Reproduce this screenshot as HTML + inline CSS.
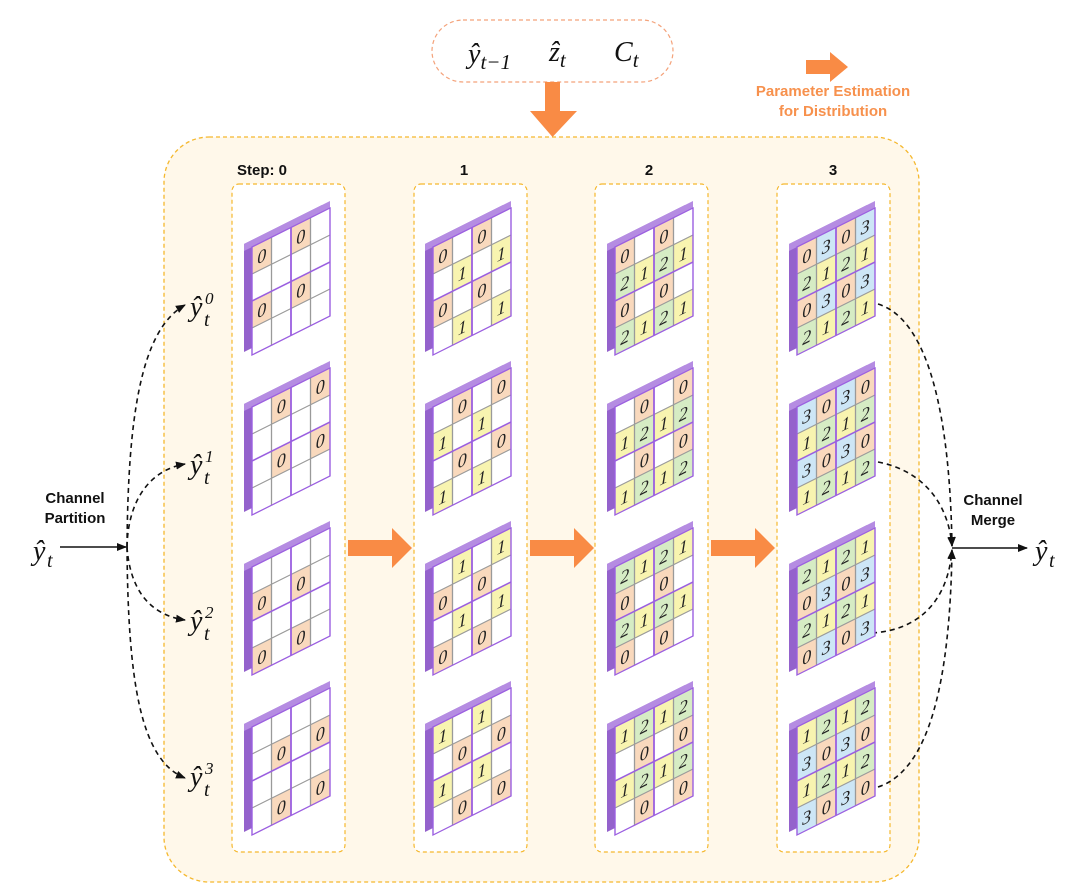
<!DOCTYPE html>
<html><head><meta charset="utf-8"><style>
html,body{margin:0;padding:0;background:#fff}
svg{display:block}
.n{font-family:"Liberation Serif",serif;font-style:italic;font-size:18px;text-anchor:middle;fill:#222}
.m{font-family:"Liberation Serif",serif;font-style:italic;fill:#111}
.lb{font-family:"Liberation Sans",sans-serif;font-weight:bold;font-size:15px;fill:#111;text-anchor:middle}
.ol{font-family:"Liberation Sans",sans-serif;font-weight:bold;font-size:15px;fill:#f7914d;text-anchor:middle}
</style></head><body>
<svg width="1071" height="888" viewBox="0 0 1071 888" xmlns="http://www.w3.org/2000/svg">
<defs>
<g id="fr">
<rect x="-8" y="-7" width="78" height="108" fill="#9462cc"/>
<rect x="-8" y="-7" width="86" height="7" fill="#b58ce2"/>
<rect x="0" y="0" width="78" height="108" fill="#fff"/>
</g>
<g id="ln" fill="none">
<path d="M19.5 0V108M58.5 0V108M0 27H78M0 81H78" stroke="#9a9a9a" stroke-width="1.3"/>
<path d="M39 0V108M0 54H78" stroke="#9b5fe0" stroke-width="1.8"/>
<rect x="0" y="0" width="78" height="108" stroke="#9b5fe0" stroke-width="1.4"/>
</g>
<g id="A"><rect x="0" y="0" width="19.5" height="27"/><rect x="39" y="0" width="19.5" height="27"/><rect x="0" y="54" width="19.5" height="27"/><rect x="39" y="54" width="19.5" height="27"/></g>
<g id="B"><rect x="19.5" y="0" width="19.5" height="27"/><rect x="58.5" y="0" width="19.5" height="27"/><rect x="19.5" y="54" width="19.5" height="27"/><rect x="58.5" y="54" width="19.5" height="27"/></g>
<g id="C"><rect x="0" y="27" width="19.5" height="27"/><rect x="39" y="27" width="19.5" height="27"/><rect x="0" y="81" width="19.5" height="27"/><rect x="39" y="81" width="19.5" height="27"/></g>
<g id="D"><rect x="19.5" y="27" width="19.5" height="27"/><rect x="58.5" y="27" width="19.5" height="27"/><rect x="19.5" y="81" width="19.5" height="27"/><rect x="58.5" y="81" width="19.5" height="27"/></g>
<marker id="ah" markerWidth="10" markerHeight="10" refX="9" refY="5" orient="auto" markerUnits="userSpaceOnUse"><path d="M0 1L10 5L0 9Z" fill="#111"/></marker>
</defs>

<rect x="164" y="137" width="755" height="745" rx="45" fill="#fff8ea" stroke="#f5b82e" stroke-width="1.3" stroke-dasharray="4 3"/>
<g fill="#fff" stroke="#f5b82e" stroke-width="1.2" stroke-dasharray="4 3">
<rect x="232" y="184" width="113" height="668" rx="7"/>
<rect x="414" y="184" width="113" height="668" rx="7"/>
<rect x="595" y="184" width="113" height="668" rx="7"/>
<rect x="777" y="184" width="113" height="668" rx="7"/>
</g>
<text class="lb" x="262" y="175">Step: 0</text>
<text class="lb" x="464" y="175">1</text>
<text class="lb" x="649" y="175">2</text>
<text class="lb" x="833" y="175">3</text>

<rect x="432" y="20" width="241" height="62" rx="31" fill="#fff" stroke="#f4a27a" stroke-width="1.2" stroke-dasharray="4 3"/>
<text class="m" x="468" y="63" font-size="28">ŷ<tspan font-size="21" dy="6">t−1</tspan></text>
<text class="m" x="549" y="61" font-size="28">ẑ<tspan font-size="21" dy="6">t</tspan></text>
<text class="m" x="614" y="61" font-size="28">C<tspan font-size="21" dy="6">t</tspan></text>
<path d="M545 82H560V111H577L552.5 137L530 111H545Z" fill="#f98b45"/>
<path d="M806 60H830V52L848 67L830 82V74H806Z" fill="#f98b45"/>
<text class="ol" x="833" y="96">Parameter Estimation</text>
<text class="ol" x="833" y="116">for Distribution</text>

<path d="M348 540H392V528L412 548L392 568V556H348Z" fill="#f98b45"/>
<path d="M530 540H574V528L594 548L574 568V556H530Z" fill="#f98b45"/>
<path d="M711 540H755V528L775 548L755 568V556H711Z" fill="#f98b45"/>

<text class="lb" x="75" y="503">Channel</text>
<text class="lb" x="75" y="523">Partition</text>
<text class="m" x="33" y="560" font-size="28">ŷ</text><text class="m" x="47" y="567" font-size="20">t</text>
<line x1="60" y1="547" x2="126" y2="547" stroke="#111" stroke-width="1.6" marker-end="url(#ah)"/>
<g fill="none" stroke="#111" stroke-width="1.6" stroke-dasharray="5 4" marker-end="url(#ah)">
<path d="M127 547C128 420 140 330 185 305"/>
<path d="M127 547C128 500 150 470 185 464"/>
<path d="M127 547C130 590 150 615 185 620"/>
<path d="M127 547C128 680 140 760 185 778"/>
</g>
<g class="m">
<text x="190" y="316" font-size="28">ŷ</text><text x="204" y="326" font-size="20">t</text><text x="205" y="304" font-size="17">0</text>
<text x="190" y="474" font-size="28">ŷ</text><text x="204" y="484" font-size="20">t</text><text x="205" y="462" font-size="17">1</text>
<text x="190" y="630" font-size="28">ŷ</text><text x="204" y="640" font-size="20">t</text><text x="205" y="618" font-size="17">2</text>
<text x="190" y="786" font-size="28">ŷ</text><text x="204" y="796" font-size="20">t</text><text x="205" y="774" font-size="17">3</text>
</g>

<g fill="none" stroke="#111" stroke-width="1.6" stroke-dasharray="5 4" marker-end="url(#ah)">
<path d="M878 304C930 320 950 420 952 546"/>
<path d="M878 462C920 470 948 500 952 546"/>
<path d="M872 633C920 630 948 600 952 550"/>
<path d="M878 787C930 770 950 680 952 550"/>
</g>
<line x1="952" y1="548" x2="1027" y2="548" stroke="#111" stroke-width="1.6" marker-end="url(#ah)"/>
<text class="lb" x="993" y="505">Channel</text>
<text class="lb" x="993" y="525">Merge</text>
<text class="m" x="1035" y="560" font-size="28">ŷ</text><text class="m" x="1049" y="567" font-size="20">t</text>

<!-- Step 0 -->
<g transform="translate(252,247) matrix(1,-0.5,0,1,0,0)"><use href="#fr"/><use href="#A" fill="#f9d9bd"/><use href="#ln"/>
<text class="n" x="9.75 48.75 9.75 48.75" y="20 20 74 74">0000</text></g>
<g transform="translate(252,407) matrix(1,-0.5,0,1,0,0)"><use href="#fr"/><use href="#B" fill="#f9d9bd"/><use href="#ln"/>
<text class="n" x="29.25 68.25 29.25 68.25" y="20 20 74 74">0000</text></g>
<g transform="translate(252,567) matrix(1,-0.5,0,1,0,0)"><use href="#fr"/><use href="#C" fill="#f9d9bd"/><use href="#ln"/>
<text class="n" x="9.75 48.75 9.75 48.75" y="47 47 101 101">0000</text></g>
<g transform="translate(252,727) matrix(1,-0.5,0,1,0,0)"><use href="#fr"/><use href="#D" fill="#f9d9bd"/><use href="#ln"/>
<text class="n" x="29.25 68.25 29.25 68.25" y="47 47 101 101">0000</text></g>

<!-- Step 1 -->
<g transform="translate(433,247) matrix(1,-0.5,0,1,0,0)"><use href="#fr"/><use href="#A" fill="#f9d9bd"/><use href="#D" fill="#f8f4b0"/><use href="#ln"/>
<text class="n" x="9.75 48.75 9.75 48.75" y="20 20 74 74">0000</text><text class="n" x="29.25 68.25 29.25 68.25" y="47 47 101 101">1111</text></g>
<g transform="translate(433,407) matrix(1,-0.5,0,1,0,0)"><use href="#fr"/><use href="#B" fill="#f9d9bd"/><use href="#C" fill="#f8f4b0"/><use href="#ln"/>
<text class="n" x="29.25 68.25 29.25 68.25" y="20 20 74 74">0000</text><text class="n" x="9.75 48.75 9.75 48.75" y="47 47 101 101">1111</text></g>
<g transform="translate(433,567) matrix(1,-0.5,0,1,0,0)"><use href="#fr"/><use href="#C" fill="#f9d9bd"/><use href="#B" fill="#f8f4b0"/><use href="#ln"/>
<text class="n" x="9.75 48.75 9.75 48.75" y="47 47 101 101">0000</text><text class="n" x="29.25 68.25 29.25 68.25" y="20 20 74 74">1111</text></g>
<g transform="translate(433,727) matrix(1,-0.5,0,1,0,0)"><use href="#fr"/><use href="#D" fill="#f9d9bd"/><use href="#A" fill="#f8f4b0"/><use href="#ln"/>
<text class="n" x="29.25 68.25 29.25 68.25" y="47 47 101 101">0000</text><text class="n" x="9.75 48.75 9.75 48.75" y="20 20 74 74">1111</text></g>

<!-- Step 2 -->
<g transform="translate(615,247) matrix(1,-0.5,0,1,0,0)"><use href="#fr"/><use href="#A" fill="#f9d9bd"/><use href="#D" fill="#f8f4b0"/><use href="#C" fill="#d6ecc4"/><use href="#ln"/>
<text class="n" x="9.75 48.75 9.75 48.75" y="20 20 74 74">0000</text><text class="n" x="29.25 68.25 29.25 68.25" y="47 47 101 101">1111</text><text class="n" x="9.75 48.75 9.75 48.75" y="47 47 101 101">2222</text></g>
<g transform="translate(615,407) matrix(1,-0.5,0,1,0,0)"><use href="#fr"/><use href="#B" fill="#f9d9bd"/><use href="#C" fill="#f8f4b0"/><use href="#D" fill="#d6ecc4"/><use href="#ln"/>
<text class="n" x="29.25 68.25 29.25 68.25" y="20 20 74 74">0000</text><text class="n" x="9.75 48.75 9.75 48.75" y="47 47 101 101">1111</text><text class="n" x="29.25 68.25 29.25 68.25" y="47 47 101 101">2222</text></g>
<g transform="translate(615,567) matrix(1,-0.5,0,1,0,0)"><use href="#fr"/><use href="#C" fill="#f9d9bd"/><use href="#B" fill="#f8f4b0"/><use href="#A" fill="#d6ecc4"/><use href="#ln"/>
<text class="n" x="9.75 48.75 9.75 48.75" y="47 47 101 101">0000</text><text class="n" x="29.25 68.25 29.25 68.25" y="20 20 74 74">1111</text><text class="n" x="9.75 48.75 9.75 48.75" y="20 20 74 74">2222</text></g>
<g transform="translate(615,727) matrix(1,-0.5,0,1,0,0)"><use href="#fr"/><use href="#D" fill="#f9d9bd"/><use href="#A" fill="#f8f4b0"/><use href="#B" fill="#d6ecc4"/><use href="#ln"/>
<text class="n" x="29.25 68.25 29.25 68.25" y="47 47 101 101">0000</text><text class="n" x="9.75 48.75 9.75 48.75" y="20 20 74 74">1111</text><text class="n" x="29.25 68.25 29.25 68.25" y="20 20 74 74">2222</text></g>

<!-- Step 3 -->
<g transform="translate(797,247) matrix(1,-0.5,0,1,0,0)"><use href="#fr"/><use href="#A" fill="#f9d9bd"/><use href="#D" fill="#f8f4b0"/><use href="#C" fill="#d6ecc4"/><use href="#B" fill="#cde6f6"/><use href="#ln"/>
<text class="n" x="9.75 48.75 9.75 48.75" y="20 20 74 74">0000</text><text class="n" x="29.25 68.25 29.25 68.25" y="47 47 101 101">1111</text><text class="n" x="9.75 48.75 9.75 48.75" y="47 47 101 101">2222</text><text class="n" x="29.25 68.25 29.25 68.25" y="20 20 74 74">3333</text></g>
<g transform="translate(797,407) matrix(1,-0.5,0,1,0,0)"><use href="#fr"/><use href="#B" fill="#f9d9bd"/><use href="#C" fill="#f8f4b0"/><use href="#D" fill="#d6ecc4"/><use href="#A" fill="#cde6f6"/><use href="#ln"/>
<text class="n" x="29.25 68.25 29.25 68.25" y="20 20 74 74">0000</text><text class="n" x="9.75 48.75 9.75 48.75" y="47 47 101 101">1111</text><text class="n" x="29.25 68.25 29.25 68.25" y="47 47 101 101">2222</text><text class="n" x="9.75 48.75 9.75 48.75" y="20 20 74 74">3333</text></g>
<g transform="translate(797,567) matrix(1,-0.5,0,1,0,0)"><use href="#fr"/><use href="#C" fill="#f9d9bd"/><use href="#B" fill="#f8f4b0"/><use href="#A" fill="#d6ecc4"/><use href="#D" fill="#cde6f6"/><use href="#ln"/>
<text class="n" x="9.75 48.75 9.75 48.75" y="47 47 101 101">0000</text><text class="n" x="29.25 68.25 29.25 68.25" y="20 20 74 74">1111</text><text class="n" x="9.75 48.75 9.75 48.75" y="20 20 74 74">2222</text><text class="n" x="29.25 68.25 29.25 68.25" y="47 47 101 101">3333</text></g>
<g transform="translate(797,727) matrix(1,-0.5,0,1,0,0)"><use href="#fr"/><use href="#D" fill="#f9d9bd"/><use href="#A" fill="#f8f4b0"/><use href="#B" fill="#d6ecc4"/><use href="#C" fill="#cde6f6"/><use href="#ln"/>
<text class="n" x="29.25 68.25 29.25 68.25" y="47 47 101 101">0000</text><text class="n" x="9.75 48.75 9.75 48.75" y="20 20 74 74">1111</text><text class="n" x="29.25 68.25 29.25 68.25" y="20 20 74 74">2222</text><text class="n" x="9.75 48.75 9.75 48.75" y="47 47 101 101">3333</text></g>
</svg>
</body></html>
